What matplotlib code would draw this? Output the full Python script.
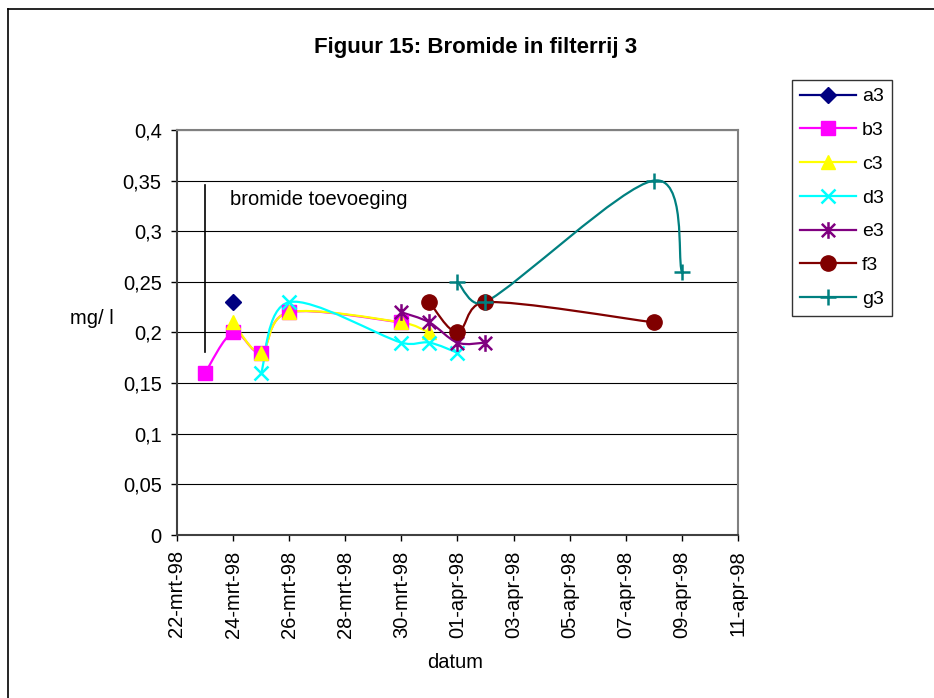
import numpy as np
import matplotlib
matplotlib.use("Agg")
import matplotlib.pyplot as plt
import matplotlib.dates as mdates
from matplotlib.path import Path
from matplotlib.patches import PathPatch
from matplotlib.lines import Line2D
from datetime import datetime

plt.rcParams['font.family'] = ['Liberation Sans', 'DejaVu Sans']

# data (datum, mg/l)
a3_dates = ['1998-03-24']
a3_vals = [0.23]
b3_dates = ['1998-03-23', '1998-03-24', '1998-03-25', '1998-03-26', '1998-03-30']
b3_vals = [0.16, 0.20, 0.18, 0.22, 0.21]
c3_dates = ['1998-03-24', '1998-03-25', '1998-03-26', '1998-03-30', '1998-03-31']
c3_vals = [0.21, 0.18, 0.22, 0.21, 0.20]
d3_dates = ['1998-03-25', '1998-03-26', '1998-03-30', '1998-03-31', '1998-04-01']
d3_vals = [0.16, 0.23, 0.19, 0.19, 0.18]
e3_dates = ['1998-03-30', '1998-03-31', '1998-04-01', '1998-04-02']
e3_vals = [0.22, 0.21, 0.19, 0.19]
f3_dates = ['1998-03-31', '1998-04-01', '1998-04-02', '1998-04-08']
f3_vals = [0.23, 0.20, 0.23, 0.21]
g3_dates = ['1998-04-01', '1998-04-02', '1998-04-08', '1998-04-09']
g3_vals = [0.25, 0.23, 0.35, 0.26]

tick_dates = ['1998-03-22', '1998-03-24', '1998-03-26', '1998-03-28', '1998-03-30',
              '1998-04-01', '1998-04-03', '1998-04-05', '1998-04-07', '1998-04-09',
              '1998-04-11']
tick_labels = ['22-mrt-98', '24-mrt-98', '26-mrt-98', '28-mrt-98', '30-mrt-98',
               '01-apr-98', '03-apr-98', '05-apr-98', '07-apr-98', '09-apr-98',
               '11-apr-98']
y_ticks = [0, 0.05, 0.1, 0.15, 0.2, 0.25, 0.3, 0.35, 0.4]
y_labels = ['0', '0,05', '0,1', '0,15', '0,2', '0,25', '0,3', '0,35', '0,4']


def dn(dates):
    return mdates.date2num([datetime.strptime(d, '%Y-%m-%d') for d in dates])


# excel style asterisk marker
ast = Path([(0, -1), (0, 1), (-0.8, -0.8), (0.8, 0.8), (-0.8, 0.8), (0.8, -0.8)],
           [Path.MOVETO, Path.LINETO, Path.MOVETO, Path.LINETO, Path.MOVETO, Path.LINETO])

series = [
    ('a3', a3_dates, a3_vals, '#000080', 'D', 8),
    ('b3', b3_dates, b3_vals, '#FF00FF', 's', 10),
    ('c3', c3_dates, c3_vals, '#FFFF00', '^', 10),
    ('d3', d3_dates, d3_vals, '#00FFFF', 'x', 10),
    ('e3', e3_dates, e3_vals, '#800080', ast, 12),
    ('f3', f3_dates, f3_vals, '#800000', 'o', 11),
    ('g3', g3_dates, g3_vals, '#008080', '+', 12),
]


def smooth_path(ax, x, y):
    # excel-like smoothed line: bezier arms of 1/6, capped at half the segment,
    # worked out in screen space and mapped back to data space
    p = ax.transData.transform(np.column_stack([x, y]))
    n = len(p)
    verts = [p[0]]
    codes = [Path.MOVETO]
    for i in range(n - 1):
        p0 = p[i - 1] if i > 0 else p[i]
        p1 = p[i]
        p2 = p[i + 1]
        p3 = p[i + 2] if i + 2 < n else p[i + 1]
        d12 = np.hypot(*(p2 - p1))
        d02 = np.hypot(*(p2 - p0))
        d13 = np.hypot(*(p3 - p1))
        f1 = 1 / 6
        if d02 / 6 > d12 / 2 and d02 > 0:
            f1 = d12 / (2 * d02)
        f2 = 1 / 6
        if d13 / 6 > d12 / 2 and d13 > 0:
            f2 = d12 / (2 * d13)
        verts += [p1 + (p2 - p0) * f1, p2 - (p3 - p1) * f2, p2]
        codes += [Path.CURVE4] * 3
    verts = ax.transData.inverted().transform(np.array(verts))
    return Path(verts, codes)


fig = plt.figure(figsize=(9.34, 6.98), dpi=100)
ax = fig.add_axes([0.1895, 0.2335, 0.6005, 0.5803])
ax.set_xlim(dn(['1998-03-22'])[0], dn(['1998-04-11'])[0])
ax.set_ylim(0, 0.4)

handles = []
for name, dates, vals, col, mk, ms in series:
    x = dn(dates)
    if len(x) > 1:
        ax.add_patch(PathPatch(smooth_path(ax, x, vals), fill=False, edgecolor=col,
                               lw=1.6, zorder=3))
    mew = 1.8 if mk in ('x', '+') or mk is ast else 1
    ax.plot(x, vals, linestyle='none', marker=mk, ms=ms, color=col,
            mec=col, mew=mew, zorder=4)
    handles.append(Line2D([], [], color=col, lw=1.6, marker=mk, ms=ms, mec=col,
                          mew=mew, label=name))

# bromide toevoeging marker line
bx = dn(['1998-03-23'])[0]
ax.plot([bx, bx], [0.181, 0.346], color='black', lw=1.2, zorder=2)
ax.text(bx + 0.88, 0.331, 'bromide toevoeging', fontsize=14.5, va='center', ha='left')

ax.set_xticks(dn(tick_dates))
ax.set_xticklabels(tick_labels, rotation=90, fontsize=14.5)
ax.set_yticks(y_ticks)
ax.set_yticklabels(y_labels, fontsize=14.5)
ax.tick_params(direction='out', length=4.5, width=1, color='black', pad=6.5)
ax.yaxis.grid(True, color='black', lw=0.8)
ax.set_axisbelow(True)
for s in ['top', 'right']:
    ax.spines[s].set_color('#808080')
    ax.spines[s].set_linewidth(1.5)
for s in ['left', 'bottom']:
    ax.spines[s].set_color('#404040')
    ax.spines[s].set_linewidth(1.5)

fig.text(92 / 934, 1 - 319 / 698, 'mg/ l', fontsize=14.5, ha='center', va='center')
fig.text(455 / 934, 1 - 662 / 698, 'datum', fontsize=14.5, ha='center', va='center')
fig.text(476 / 934, 1 - 48 / 698, 'Figuur 15: Bromide in filterrij 3', fontsize=16,
         fontweight='bold', ha='center', va='center')

leg = fig.legend(handles=handles, loc='upper left', bbox_to_anchor=(792 / 934, 1 - 80 / 698),
                 fontsize=14, frameon=True, fancybox=False, handlelength=2.9,
                 labelspacing=0.83, borderpad=0.4, handletextpad=0.3, borderaxespad=0)
leg.get_frame().set_edgecolor('black')
leg.get_frame().set_linewidth(1)

# outer chart frame (only top and left visible)
fig.add_artist(Line2D([8 / 934, 1], [1 - 9 / 698, 1 - 9 / 698], color='black', lw=1.2,
                      transform=fig.transFigure))
fig.add_artist(Line2D([8 / 934, 8 / 934], [0, 1 - 9 / 698], color='black', lw=1.2,
                      transform=fig.transFigure))

fig.savefig('out.png', dpi=100)
